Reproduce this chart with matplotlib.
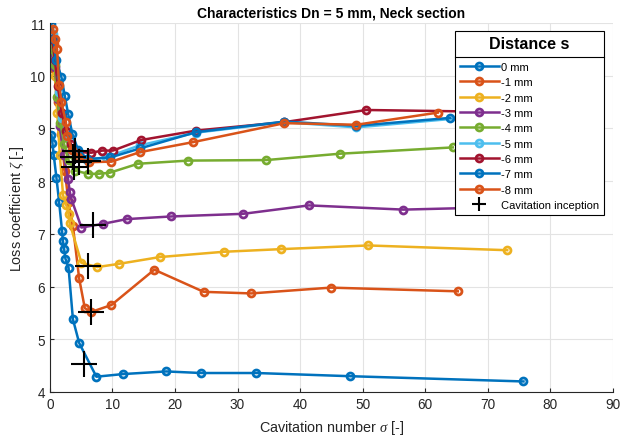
import matplotlib
matplotlib.use("Agg")
import matplotlib.pyplot as plt
from matplotlib.lines import Line2D

plt.rcParams['font.family'] = ['Liberation Sans', 'DejaVu Sans']
plt.rcParams['mathtext.fontset'] = 'custom'
plt.rcParams['mathtext.it'] = 'Liberation Serif:italic'
plt.rcParams['mathtext.rm'] = 'Liberation Sans'

labels = ["0 mm", "-1 mm", "-2 mm", "-3 mm", "-4 mm", "-5 mm", "-6 mm", "-7 mm", "-8 mm"]
colors = ["#0072BD", "#D95319", "#EDB120", "#7E2F8E", "#77AC30",
          "#4DBEEE", "#A2142F", "#0072BD", "#D95319"]

sig_0 = [0.27, 0.43, 0.64, 1.07, 1.49, 1.97, 2.10, 2.30, 2.50, 3.00, 3.70, 4.70, 7.45, 11.7, 18.6, 24.2, 33.0, 47.9, 75.7]
zet_0 = [8.88, 8.72, 8.49, 8.06, 7.61, 7.05, 6.87, 6.71, 6.53, 6.36, 5.38, 4.93, 4.29, 4.34, 4.39, 4.36, 4.36, 4.30, 4.20]

sig_1 = [0.6, 0.9, 1.3, 1.8, 2.4, 3.0, 3.7, 4.69, 5.6, 6.66, 9.85, 16.7, 24.6, 32.2, 44.9, 65.2]
zet_1 = [10.6, 10.1, 9.5, 8.9, 8.2, 7.6, 7.15, 6.16, 5.59, 5.52, 5.65, 6.32, 5.90, 5.87, 5.98, 5.91]

sig_2 = [0.5, 0.8, 1.2, 1.6, 2.13, 2.66, 3.0, 3.2, 5.06, 7.6, 11.0, 17.6, 27.8, 36.9, 50.9, 73.1]
zet_2 = [10.4, 10.0, 9.3, 8.5, 7.73, 7.54, 7.38, 7.20, 6.45, 6.37, 6.43, 6.56, 6.66, 6.71, 6.78, 6.69]

sig_3 = [0.27, 0.8, 1.3, 1.6, 2.2, 2.93, 3.2, 3.46, 5.06, 8.5, 12.3, 19.4, 30.9, 41.4, 56.5, 70.0, 83.1]
zet_3 = [10.45, 10.16, 9.55, 9.05, 8.5, 8.04, 7.80, 7.66, 7.12, 7.19, 7.28, 7.33, 7.38, 7.54, 7.46, 7.50, 7.54]

sig_4 = [0.4, 0.8, 1.2, 1.7, 2.3, 3.0, 4.0, 6.12, 7.83, 9.58, 14.1, 22.1, 34.6, 46.3, 64.4]
zet_4 = [10.5, 10.2, 9.6, 9.1, 8.7, 8.4, 8.2, 8.14, 8.14, 8.16, 8.33, 8.39, 8.40, 8.52, 8.64]

sig_5 = [0.5, 0.9, 1.4, 2.0, 2.7, 3.5, 4.5, 6.0, 9.0, 14.4, 23.4, 37.5, 49.0, 66.0]
zet_5 = [10.8, 10.3, 9.7, 9.2, 8.85, 8.6, 8.45, 8.40, 8.45, 8.68, 8.92, 9.12, 9.02, 9.20]

sig_6 = [0.4, 0.8, 1.3, 1.9, 2.6, 3.4, 4.5, 6.66, 8.4, 10.1, 14.6, 23.4, 37.5, 50.6, 68.0]
zet_6 = [10.7, 10.3, 9.8, 9.3, 8.95, 8.7, 8.55, 8.54, 8.58, 8.58, 8.78, 8.96, 9.12, 9.35, 9.32]

sig_7 = [0.27, 0.6, 1.0, 1.87, 2.4, 2.93, 3.6, 4.5, 6.0, 9.7, 14.4, 23.4, 37.5, 49.0, 64.0]
zet_7 = [10.98, 10.7, 10.3, 9.97, 9.62, 9.28, 8.9, 8.6, 8.42, 8.45, 8.62, 8.93, 9.13, 9.05, 9.20]

sig_8 = [0.53, 0.8, 1.17, 1.49, 1.87, 2.56, 2.83, 3.5, 4.5, 6.2, 9.85, 14.4, 22.9, 37.5, 49.0, 62.0]
zet_8 = [10.89, 10.7, 10.5, 9.83, 9.5, 9.13, 8.86, 8.6, 8.45, 8.36, 8.37, 8.55, 8.74, 9.10, 9.07, 9.30]

inc_sigma = [5.48, 6.55, 6.12, 6.92, 3.8, 3.7, 4.1, 6.1, 4.6]
inc_zeta = [4.54, 5.51, 6.39, 7.16, 8.27, 8.45, 8.58, 8.38, 8.36]

sigmas = [sig_0, sig_1, sig_2, sig_3, sig_4, sig_5, sig_6, sig_7, sig_8]
zetas = [zet_0, zet_1, zet_2, zet_3, zet_4, zet_5, zet_6, zet_7, zet_8]

fig = plt.figure(figsize=(6.22, 4.39), dpi=100)
ax = fig.add_axes([0.080, 0.1048, 0.9055, 0.8405])

for s, z, c, lab in zip(sigmas, zetas, colors, labels):
    ax.plot(s, z, '-o', color=c, lw=1.8, ms=5, mfc='none', mew=2.0, label=lab)
ax.plot(inc_sigma, inc_zeta, '+', color='black', ms=19, mew=1.5, ls='none',
        label='Cavitation inception')

ax.set_xlim(0, 90)
ax.set_ylim(4, 11)
ax.set_xticks(range(0, 91, 10))
ax.set_yticks(range(4, 12))
ax.grid(True, color='#e3e3e3', lw=0.8)
ax.set_axisbelow(True)
for side in ['top', 'right']:
    ax.spines[side].set_visible(False)
for side in ['left', 'bottom']:
    ax.spines[side].set_color('#262626')
    ax.spines[side].set_linewidth(0.8)
ax.tick_params(direction='in', length=3, colors='#262626', labelsize=9.8, width=0.8)

ax.set_xlabel('Cavitation number $\\mathit{\\sigma}$ [-]', fontsize=10.4, color='#262626', labelpad=5)
ax.set_ylabel('Loss coefficient $\\mathit{\\zeta}$ [-]', fontsize=10.4, color='#262626', labelpad=3)
ax.set_title('Characteristics Dn = 5 mm, Neck section', fontsize=10, fontweight='bold',
             color='#000000', pad=5)

leg = ax.legend(loc='upper right', bbox_to_anchor=(0.984, 0.978), borderaxespad=0,
                fontsize=8, title='Distance s', title_fontproperties={'weight': 'bold', 'size': 11.5},
                frameon=True, fancybox=False, edgecolor='black', framealpha=1,
                handlelength=3.5, handletextpad=0.2, labelspacing=0.48, borderpad=0.45)
leg.get_frame().set_linewidth(0.8)
leg.set_zorder(20)
leg.legend_handles[-1].set_markersize(10)
leg._legend_box.sep = leg._legend_box.sep + 4

fig.canvas.draw()
lb = leg.get_window_extent()
tb = leg.get_title().get_window_extent()
hb = leg._legend_handle_box.get_window_extent(fig.canvas.get_renderer())
ysep = (tb.y0 + hb.y1) / 2.0
inv = fig.transFigure.inverted()
(x0, y0) = inv.transform((lb.x0, ysep))
(x1, _) = inv.transform((lb.x1, ysep))
fig.add_artist(Line2D([x0, x1], [y0, y0], color='black', lw=0.8, transform=fig.transFigure, zorder=30))

fig.savefig('out.png', dpi=100)
